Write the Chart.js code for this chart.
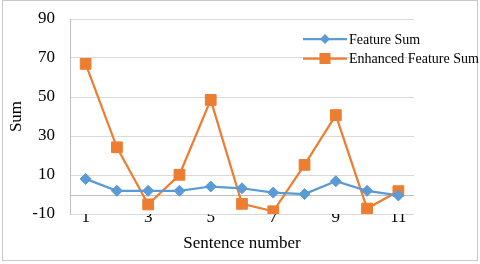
<!DOCTYPE html>
<html>
<head>
<meta charset="utf-8">
<script src="https://cdn.jsdelivr.net/npm/chart.js@4"></script>
<style>
  html, body { margin: 0; padding: 0; background: #fff; }
  #wrap { width: 480px; height: 264px; }
</style>
</head>
<body>
<div id="wrap"><canvas id="sumChart" width="480" height="264"></canvas></div>
<script>
// sentence numbers along the x axis
var sentences = ['1', '2', '3', '4', '5', '6', '7', '8', '9', '10', '11'];
var featureSum = [8.0, 1.9, 1.9, 1.9, 4.1, 3.2, 1.0, 0.2, 6.8, 1.9, -0.5];
var enhancedSum = [67, 24.2, -5.1, 10.1, 48.5, -4.8, -8.6, 15.2, 40.7, -7.2, 1.7];
var seriesNames = ['Feature Sum', 'Enhanced Feature Sum'];

var serif = "'Liberation Serif', 'Times New Roman', serif";

// grey frame round the whole picture + the axis line at zero
var framePlugin = {
  id: 'frame',
  beforeDraw: function(chart) {
    var ctx = chart.ctx;
    ctx.save();
    ctx.fillStyle = '#fff';
    ctx.fillRect(0, 0, chart.width, chart.height);
    ctx.strokeStyle = '#c8c8c8';
    ctx.lineWidth = 1;
    ctx.strokeRect(2.5, 0.5, 475, 260);
    ctx.restore();
  },
  beforeDatasetsDraw: function(chart) {
    var ctx = chart.ctx;
    var area = chart.chartArea;
    var y = Math.round(chart.scales.y.getPixelForValue(0)) + 0.5;
    ctx.save();
    ctx.strokeStyle = '#bfbfbf';
    ctx.lineWidth = 1;
    ctx.beginPath();
    ctx.moveTo(area.left, y);
    ctx.lineTo(area.right, y);
    ctx.stroke();
    ctx.restore();
  }
};

// legend sits inside the plot, top right, no background
var legendPlugin = {
  id: 'innerLegend',
  afterDraw: function(chart) {
    var ctx = chart.ctx;
    var x0 = chart.chartArea.right - 111;
    var rows = [39, 58.5];
    ctx.save();
    chart.data.datasets.forEach(function(ds, i) {
      var y = rows[i];
      ctx.strokeStyle = ds.borderColor;
      ctx.lineWidth = ds.borderWidth;
      ctx.beginPath();
      ctx.moveTo(x0, y);
      ctx.lineTo(x0 + 44, y);
      ctx.stroke();
      ctx.fillStyle = ds.backgroundColor;
      ctx.beginPath();
      if (ds.pointStyle === 'rect') {
        ctx.rect(x0 + 22 - 5.5, y - 5.5, 11, 11);
      } else {
        var r = 5;
        ctx.moveTo(x0 + 22, y - r);
        ctx.lineTo(x0 + 22 + r, y);
        ctx.lineTo(x0 + 22, y + r);
        ctx.lineTo(x0 + 22 - r, y);
        ctx.closePath();
      }
      ctx.fill();
      ctx.fillStyle = '#000';
      ctx.font = '14px ' + serif;
      ctx.textBaseline = 'middle';
      ctx.textAlign = 'left';
      ctx.fillText(ds.label, x0 + 46, y + 1);
    });
    ctx.restore();
  }
};

new Chart(document.getElementById('sumChart'), {
  type: 'line',
  data: {
    labels: sentences,
    datasets: [{
      label: seriesNames[0],
      data: featureSum,
      borderColor: '#5b9bd5',
      backgroundColor: '#5b9bd5',
      borderWidth: 2.25,
      pointStyle: 'rectRot',
      pointRadius: 5.5,
      pointBorderWidth: 1,
      tension: 0
    }, {
      label: seriesNames[1],
      data: enhancedSum,
      borderColor: '#ed7d31',
      backgroundColor: '#ed7d31',
      borderWidth: 2.25,
      pointStyle: 'rect',
      pointRadius: 7.6,
      pointBorderWidth: 1,
      tension: 0
    }]
  },
  options: {
    responsive: false,
    animation: false,
    layout: { padding: { left: 0, top: 19, right: 66, bottom: 0 } },
    plugins: {
      legend: { display: false },
      tooltip: { enabled: false }
    },
    scales: {
      x: {
        type: 'category',
        offset: true,
        grid: { display: false, drawTicks: false },
        border: { display: false },
        ticks: {
          color: '#000',
          font: { family: serif, size: 17 },
          padding: -7,
          autoSkip: false,
          maxRotation: 0,
          callback: function(val, idx) {
            return idx % 2 === 0 ? this.getLabelForValue(val) : '';
          }
        },
        title: {
          display: true,
          text: 'Sentence number',
          color: '#000',
          font: { family: serif, size: 17 },
          padding: { top: 2, bottom: 10 }
        },
        afterFit: function(s) { s.height = 50; }
      },
      y: {
        min: -10,
        max: 90,
        grid: { color: '#d9d9d9', drawTicks: false, lineWidth: 1 },
        border: { display: true, color: '#bfbfbf' },
        ticks: {
          stepSize: 20,
          color: '#000',
          font: { family: serif, size: 17 },
          padding: 15
        },
        title: {
          display: true,
          text: 'Sum',
          color: '#000',
          font: { family: serif, size: 17 },
          padding: { top: 6, bottom: 0 }
        },
        afterFit: function(s) {
          s.width = 70;
          s.paddingTop = 0;
          s.paddingBottom = 0;
        }
      }
    }
  },
  plugins: [framePlugin, legendPlugin]
});
</script>
</body>
</html>
